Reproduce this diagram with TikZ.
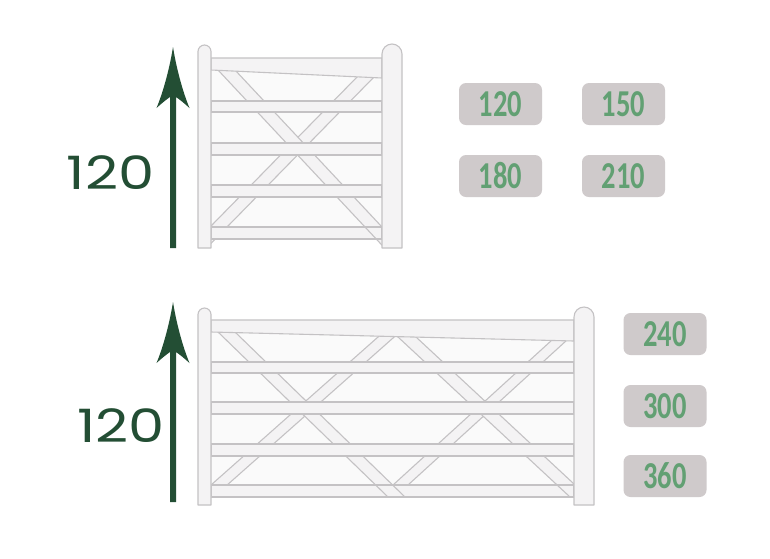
\documentclass[tikz,border=0pt]{standalone}
\usepackage{fontspec}
\newfontfamily\numfont{Poppins}
\newfontfamily\boxfont{Carlito}
\definecolor{partfill}{RGB}{244,243,244}
\definecolor{partline}{RGB}{196,194,196}
\definecolor{innerfill}{RGB}{250,250,250}
\definecolor{boxfill}{RGB}{207,202,203}
\definecolor{boxtext}{RGB}{98,160,115}
\definecolor{darkgreen}{RGB}{35,78,52}
\tikzset{
  part/.style={fill=partfill, draw=partline, line width=1.1pt, line join=round},
  partedge/.style={draw=partline, line width=1.1pt, line join=round},
  sizebox/.style={fill=boxfill, rounded corners=7pt, minimum width=83pt, minimum height=42pt,
    inner sep=0pt, text=boxtext, font=\boxfont\bfseries\fontsize{38}{38}\selectfont},
  dimlabel/.style={text=darkgreen, font=\numfont\fontsize{46}{46}\selectfont, inner sep=0pt},
}
\newcommand\boxnum[1]{\scalebox{0.75}[1]{#1}}
\newcommand\bignum[1]{\scalebox{1.25}[1]{#1}}
% post: x1, x2, top, bottom
\newcommand\gatepost[4]{%
  \pgfmathsetmacro\pr{(#2-#1)/2}%
  \pgfmathsetmacro\pc{(#1+#2)/2}%
  \pgfmathsetmacro\pk{0.552*\pr}%
  \path[part] (#1,#4) -- (#1,{#3+\pr})
    .. controls (#1,{#3+\pr-\pk}) and ({\pc-\pk},#3) .. (\pc,#3)
    .. controls ({\pc+\pk},#3) and (#2,{#3+\pr-\pk}) .. (#2,{#3+\pr})
    -- (#2,#4) -- cycle;}
% arrow: x centre, tip y, bottom y
\newcommand\dimarrow[3]{%
  \fill[darkgreen] (#1,#2)
    .. controls ({#1-4},{#2+25}) and ({#1-11},{#2+48}) .. ({#1-16.5},{#2+61})
    .. controls ({#1-11},{#2+56}) and ({#1-6},{#2+52}) .. ({#1-3},{#2+50})
    -- ({#1-3},#3) -- ({#1+3},#3) -- ({#1+3},{#2+50})
    .. controls ({#1+6},{#2+52}) and ({#1+11},{#2+56}) .. ({#1+16.5},{#2+61})
    .. controls ({#1+11},{#2+48}) and ({#1+4},{#2+25}) .. (#1,#2) -- cycle;}
\begin{document}
\begin{tikzpicture}[x=1pt,y=-1pt]
\useasboundingbox (0,0) rectangle (770,558);
\fill[white] (0,0) rectangle (770,558);

% ---------------- top gate ----------------
\fill[innerfill] (211,58) rectangle (382,239);
\begin{scope}
  \clip (211,60) rectangle (382,248);
  \path[part] (168.5,269.4) -- (386,47.4) -- (402,48.4) -- (184.5,270.4) -- cycle;
  \path[part] (203.3,54.3) -- (394.4,258.4) -- (411.4,258.4) -- (220.3,54.3) -- cycle;
\end{scope}
\path[part] (211,58) -- (382,58) -- (382,78) -- (211,70) -- cycle;
\path[part] (211,101) rectangle (382,112);
\path[part] (211,143) rectangle (382,155);
\path[part] (211,185) rectangle (382,197);
\path[part] (211,227) rectangle (382,239);
\begin{scope}
  \clip (211,227) rectangle (382,239);
  \path[partedge] (203.3,54.3) -- (394.4,258.4) -- (411.4,258.4) -- (220.3,54.3) -- cycle;
\end{scope}
\gatepost{198}{211}{45}{248}
\gatepost{382}{402}{44}{248}

% ---------------- bottom gate ----------------
\fill[innerfill] (211,320) rectangle (574,497);
\begin{scope}
  \clip (211,322) rectangle (574,497);
  \path[part] (160.9,529.4) -- (411.4,307.4) -- (426.4,308.4) -- (175.9,530.4) -- cycle;
  \path[part] (345.3,528.5) -- (599.7,296.5) -- (614.7,296.5) -- (360.3,528.5) -- cycle;
  \path[part] (184,299) -- (439,546.5) -- (456,546.5) -- (201,299) -- cycle;
  \path[part] (363.6,305) -- (621.6,545) -- (639.6,545) -- (381.6,305) -- cycle;
\end{scope}
\path[part] (211,320) -- (574,320) -- (574,341) -- (211,332) -- cycle;
\path[part] (211,362) rectangle (574,373);
\path[part] (211,402) rectangle (574,414);
\path[part] (211,444) rectangle (574,456);
\path[part] (211,485) rectangle (574,497);
\begin{scope}
  \clip (211,485) rectangle (574,497);
  \path[partedge] (184,299) -- (439,546.5) -- (456,546.5) -- (201,299) -- cycle;
  \path[partedge] (363.6,305) -- (621.6,545) -- (639.6,545) -- (381.6,305) -- cycle;
\end{scope}
\gatepost{198}{211}{308}{505}
\gatepost{574}{594}{307}{505}

% ---------------- height arrows and labels ----------------
\dimarrow{173}{47}{248}
\dimarrow{173}{302}{502}
\node[dimlabel] (htop) at (110.5,173) {\bignum{120}};
\node[dimlabel] (hbot) at (121,426) {\bignum{120}};

% ---------------- width boxes ----------------
\node[sizebox] (w120) at (500.5,104) {\boxnum{120}};
\node[sizebox] (w150) at (623.5,104) {\boxnum{150}};
\node[sizebox] (w180) at (500.5,176) {\boxnum{180}};
\node[sizebox] (w210) at (623.5,176) {\boxnum{210}};
\node[sizebox] (w240) at (665,334) {\boxnum{240}};
\node[sizebox] (w300) at (665,406) {\boxnum{300}};
\node[sizebox] (w360) at (665,476) {\boxnum{360}};
\end{tikzpicture}
\end{document}
